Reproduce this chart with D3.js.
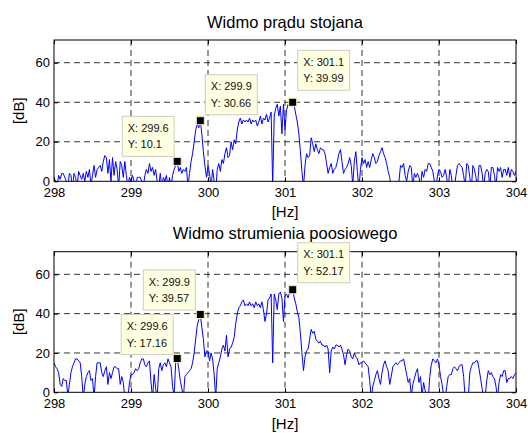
<!DOCTYPE html>
<html>
<head>
<meta charset="utf-8">
<script src="https://cdn.jsdelivr.net/npm/d3@7"></script>
<style>
  body { margin: 0; background: #fff; }
  text { font-family: "Liberation Sans", Arial, sans-serif; }
</style>
</head>
<body>
<svg id="chart" width="528" height="433"></svg>
<script>
// Frequency grid of the spectra (Hz)
const freqStart = 298;
const freqStep = 0.02;

const xTicks = [298, 299, 300, 301, 302, 303, 304];
const yTicks = [0, 20, 40, 60];

const titles = ["Widmo prądu stojana", "Widmo strumienia poosiowego"];
const xLabel = "[Hz]";
const yLabel = "[dB]";

// Stator current spectrum, dB, one row per 0.1 Hz
const statorSpectrum = [
  2, 0, -3, 3, 1,
  4, 4, 2, 0, -3,
  4, 3, -4, 4, 2,
  -3, 5, 3, 1, 4,
  0, 5, 2, 6, -2,
  3, 8, 2, 6, 7,
  8, 5, 10, 13, 12,
  4, 11, 0, 12, 3,
  10, 6, -3, 10, 8,
  2, 10, 3, -3, 2,
  0, 3, 0, -4, 2,
  2, 2, 0, -3, 3,
  6, 4, 9, 5, 7,
  3, 6, 0, -3, 4,
  -3, 2, 0, 3, -3,
  2, -3, 3, 6, 8,
  10.1, 5, 7, 4, 6,
  5, 7, -3, 4, 10,
  14, 20, 26, 29, 27,
  30.66, 24, 15, 8, 2,
  8, 4, -3, 6, 0,
  -5, 6, 9, 5, 11,
  9, 14, 17, 12, 13,
  20, 16, 21, 19, 26,
  30, 32, 29, 31, 30,
  31, 30, 32, 29, 31,
  30, 31, 28, 30, 33,
  29, 32, 31, 34, 30,
  32, 35, -2, 33, 37,
  39, 33, 38, 24, 39,
  26, 36, 39, 38, 39.5,
  39.99, 38, 34, 30, 24,
  15, 5, -3, 8, 14,
  12, 13, 22, 19, 15,
  19, 16, 14, 17, 16,
  16, 14, 9, 4, 7,
  9, 4, 6, 7, 10,
  14, 16, 10, 4, 6,
  7, 9, 12, 8, -2,
  10, 15, 5, -4, 6,
  12, 9, 11, 7, 10,
  7, 11, 14, 12, 9,
  10, 13, 15, 17, 14,
  12, 9, 5, 2, -4,
  -4, -3, -5, -4, 0,
  8, 7, 9, 3, 0,
  5, 8, 7, -3, 4,
  2, 4, 2, -3, 5,
  2, 6, 5, 9, 9,
  7, 5, 0, -4, 3,
  6, 5, 2, 3, 6,
  2, -4, 6, 3, -4,
  -3, 3, 8, 9, 8,
  7, 3, -3, 9, 8,
  2, -4, 8, 6, 2,
  -3, 8, 8, 4, -3,
  4, 6, 5, -3, 7,
  7, 3, -3, 7, 5,
  7, 2, 6, 6, 3,
  7, 2, 6, 5, 3,
  5
];

// Axial flux spectrum, dB, one row per 0.1 Hz
const fluxSpectrum = [
  15, 13, 12, 10, 4,
  3, 7, 6, 6, -2,
  4, 10, 13, 15, 17,
  17, 16, 15, 8, -3,
  4, 8, 10, 11, 6,
  7, -3, 8, 15, 15,
  15, 10, 8, 11, 13,
  4, 10, 7, 10, 13,
  13, 12, 12, 4, 8,
  5, -3, -4, -3, 5,
  9, 9, 10, 12, 11,
  12, 15, 17, 17, 14,
  13, 15, 16, 5, -3,
  9, 2, -3, 12, 15,
  11, 14, 15, 13, 17,
  15, 13, 3, -2, 15,
  17.16, 12, 6, 2, -3,
  8, 9, 10, 11, 12,
  15, 20, 27, 34, 37,
  39.57, 33, 27, 18, 21,
  21, 16, 20, 17, 9,
  -3, 12, 15, 18, 22,
  24, 21, 29, 18, 22,
  23, 25, 28, 35, 40,
  43, 44, 46, 47, 44,
  45, 44, 46, 44, 45,
  43, 46, 44, 45, 43,
  46, 42, 36, 40, 47,
  48, 50, 15, 50, 47,
  42, 50, 51, 48, 36,
  49, 50, 48, 51, 50,
  52.17, 48, 45, 41, 38,
  30, 20, 11, 18, 21,
  22, 27, 32, 30, 31,
  27, 26, 25, 26, 24,
  24, 23, 24, 22, 10,
  21, 23, 22, 24, 24,
  23, 24, 22, 19, 14,
  19, 22, 21, 18, 17,
  20, 18, 17, 14, 15,
  15, 16, 15, 14, 13,
  6, -3, 3, 6, 9,
  11, 7, 4, 10, 14,
  16, 13, 11, 4, 8,
  13, 14, 15, 14, 15,
  16, 16, 17, 13, 9,
  5, 7, -2, 4, 7,
  10, 12, 5, 8, -2,
  5, 1, -3, -4, 8,
  14, 17, 16, 15, 17,
  14, 8, 4, -2, -3,
  3, 8, 9, 9, 12,
  13, 12, 11, 13, 14,
  14, 8, -3, -4, -3,
  10, 13, 15, 15, 16,
  16, 12, 7, 2, -3,
  -2, 6, 11, 9, 10,
  8, 7, 3, -3, 5,
  9, 8, 11, 11, 5,
  7, 7, 8, 7, 9,
  10
];

// Data tips: frequency and reported level
const tipFreqs = [299.6, 299.9, 301.1];
const statorTipValues = [10.1, 30.66, 39.99];
const fluxTipValues = [17.16, 39.57, 52.17];

const svg = d3.select("#chart");

const panels = [
  {
    title: titles[0], values: statorSpectrum, tips: statorTipValues,
    top: 40, bottom: 181.3, titleY: 28.3, xLabelY: 217, yLabelCy: 110.7,
    tipPlace: [{ side: "left", dx: -3, dy: -5 }, { side: "right", dx: 5, dy: -6 }, { side: "right", dx: 5, dy: -12 }]
  },
  {
    title: titles[1], values: fluxSpectrum, tips: fluxTipValues,
    top: 251.7, bottom: 392.3, titleY: 239.3, xLabelY: 429, yLabelCy: 321.7,
    tipPlace: [{ side: "left", dx: -4, dy: -4 }, { side: "left", dx: -5, dy: -4.5 }, { side: "right", dx: 5, dy: -7 }]
  }
];

const left = 54, right = 516;
const yMax = 71.5;

panels.forEach((p, pi) => {
  const x = d3.scaleLinear().domain([298, 304]).range([left, right]);
  const y = d3.scaleLinear().domain([0, yMax]).range([p.bottom, p.top]);
  const g = svg.append("g");

  const clipId = "clip" + pi;
  svg.append("clipPath").attr("id", clipId)
    .append("rect").attr("x", left).attr("y", p.top)
    .attr("width", right - left).attr("height", p.bottom - p.top);

  // dashed grid
  g.selectAll(".vgrid").data(xTicks.slice(1, -1)).enter().append("line")
    .attr("x1", d => x(d)).attr("x2", d => x(d))
    .attr("y1", p.top).attr("y2", p.bottom)
    .attr("stroke", "#333").attr("stroke-width", 1).attr("stroke-dasharray", "6,4");
  g.selectAll(".hgrid").data(yTicks.slice(1)).enter().append("line")
    .attr("x1", left).attr("x2", right)
    .attr("y1", d => y(d)).attr("y2", d => y(d))
    .attr("stroke", "#333").attr("stroke-width", 1).attr("stroke-dasharray", "6,4");

  // spectrum line
  const line = d3.line()
    .x((d, i) => x(freqStart + i * freqStep))
    .y(d => y(d));
  g.append("path").datum(p.values)
    .attr("clip-path", `url(#${clipId})`)
    .attr("fill", "none").attr("stroke", "#0000ff").attr("stroke-width", 1)
    .attr("d", line);

  // axes with inward ticks
  const styleAxis = sel => {
    sel.select(".domain").remove();
    sel.selectAll(".tick line").attr("stroke", "#000");
    sel.selectAll(".tick text").attr("fill", "#000")
      .style("font-family", '"Liberation Sans", Arial, sans-serif').style("font-size", "13px");
  };
  g.append("g").attr("transform", `translate(0,${p.bottom})`)
    .call(d3.axisBottom(x).tickValues(xTicks).tickFormat(d3.format("d"))
      .tickSizeInner(-4).tickSizeOuter(0).tickPadding(6.8))
    .call(styleAxis);
  g.append("g").attr("transform", `translate(0,${p.top})`)
    .call(d3.axisTop(x).tickValues(xTicks).tickFormat("")
      .tickSizeInner(-4).tickSizeOuter(0))
    .call(styleAxis);
  g.append("g").attr("transform", `translate(${left},0)`)
    .call(d3.axisLeft(y).tickValues(yTicks).tickFormat(d3.format("d"))
      .tickSizeInner(-4).tickSizeOuter(0).tickPadding(4))
    .call(styleAxis);
  g.append("g").attr("transform", `translate(${right},0)`)
    .call(d3.axisRight(y).tickValues(yTicks).tickFormat("")
      .tickSizeInner(-4).tickSizeOuter(0))
    .call(styleAxis);

  // plot frame
  g.append("rect").attr("x", left).attr("y", p.top)
    .attr("width", right - left).attr("height", p.bottom - p.top)
    .attr("fill", "none").attr("stroke", "#000").attr("stroke-width", 1);

  // title and labels
  g.append("text").attr("x", (left + right) / 2).attr("y", p.titleY)
    .attr("text-anchor", "middle").style("font-size", "16.5px").attr("fill", "#000")
    .text(p.title);
  g.append("text").attr("x", (left + right) / 2).attr("y", p.xLabelY)
    .attr("text-anchor", "middle").style("font-size", "15px").attr("fill", "#000")
    .text(xLabel);
  g.append("text")
    .attr("transform", `translate(24,${p.yLabelCy}) rotate(-90)`)
    .attr("text-anchor", "middle").style("font-size", "15px").attr("fill", "#000")
    .text(yLabel);

  // data tips
  tipFreqs.forEach((f, i) => {
    const v = p.tips[i];
    const mx = x(f), my = y(v);
    const place = p.tipPlace[i];
    const tg = svg.append("g");
    const box = tg.append("rect");
    const l1 = tg.append("text").style("font-size", "11px").attr("fill", "#111")
      .text("X: " + f);
    const l2 = tg.append("text").style("font-size", "11px").attr("fill", "#111")
      .text("Y: " + v);
    const tw = Math.max(l1.node().getComputedTextLength(), l2.node().getComputedTextLength());
    const bw = tw + 11, bh = 40;
    const bx = place.side === "left" ? mx + place.dx - bw : mx + place.dx;
    const by = my + place.dy - bh;
    box.attr("x", bx).attr("y", by).attr("width", bw).attr("height", bh)
      .attr("fill", "#ffffe1").attr("stroke", "#cdcdc0").attr("stroke-width", 1);
    l1.attr("x", bx + 5.5).attr("y", by + 15.7);
    l2.attr("x", bx + 5.5).attr("y", by + 32);
    svg.append("rect").attr("x", mx - 4).attr("y", my - 4)
      .attr("width", 8).attr("height", 8)
      .attr("fill", "#000").attr("stroke", "#f3eebb").attr("stroke-width", 1);
  });
});
</script>
</body>
</html>
